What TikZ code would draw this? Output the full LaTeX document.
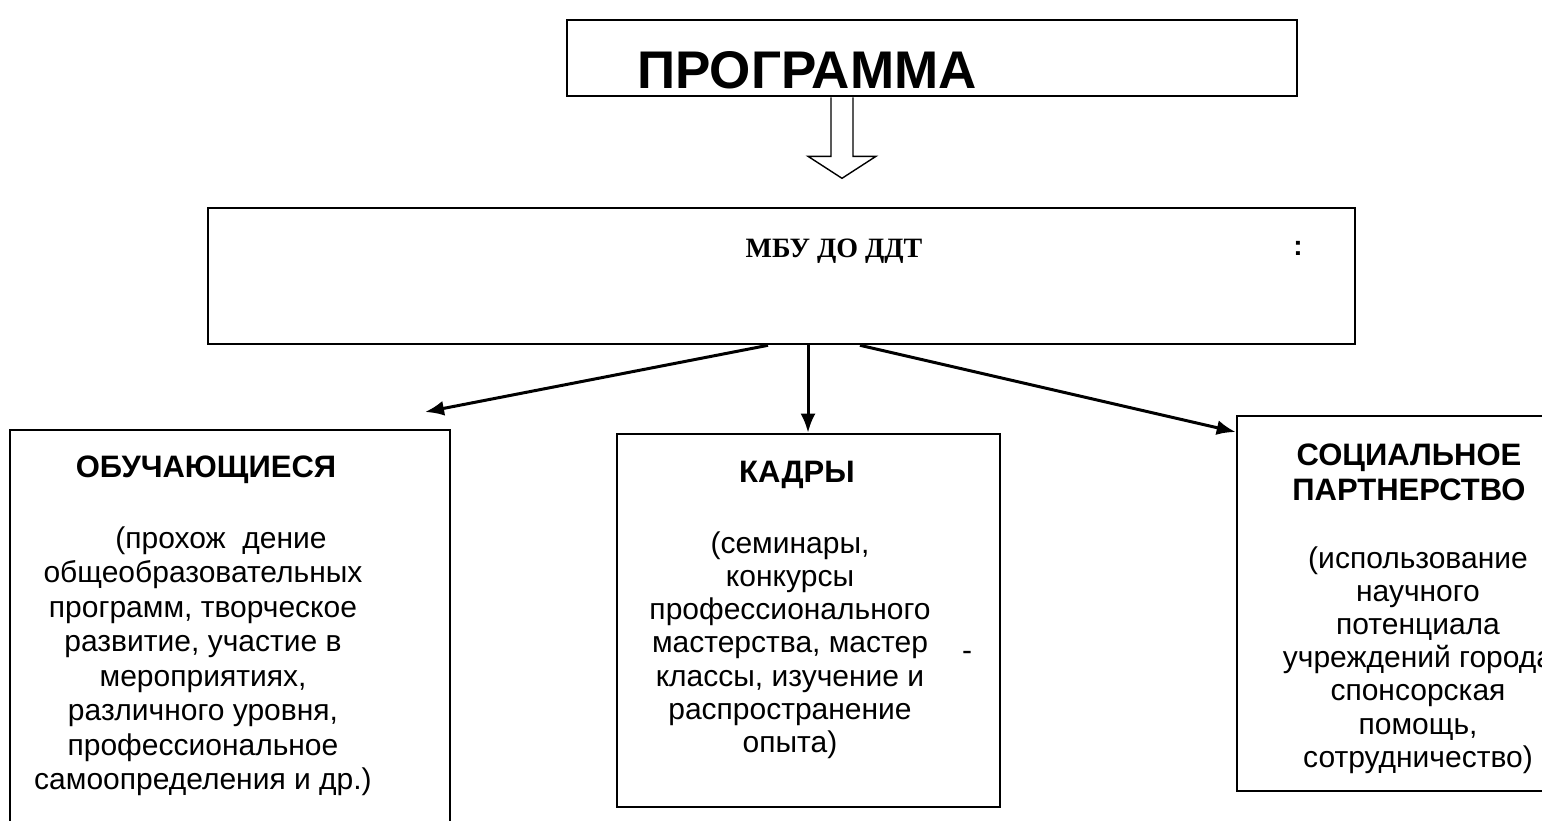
\documentclass[tikz,border=0pt]{standalone}
\usepackage{fontspec}
\setmainfont{Liberation Sans}
\newfontfamily\timesf{Liberation Serif}
\usetikzlibrary{arrows.meta,calc}
\begin{document}
\begin{tikzpicture}[x=1pt,y=-1pt,
  box/.style={draw,line width=2.6pt,inner sep=0pt,minimum width=#1},
  conn/.style={line width=3pt,-{Latex[length=19pt,width=15pt]}},
  head/.style={font=\fontsize{31}{35}\selectfont\bfseries,align=center,inner sep=0pt},
  body/.style={font=\fontsize{30}{#1}\selectfont,align=center,inner sep=0pt},
]
\clip (0,0) rectangle (1542,820);
\fill[white] (0,0) rectangle (1542,820);
% boxes
\node[box=730pt,minimum height=76pt] (prog) at (932,58) {};
\node[box=1147pt,minimum height=136pt] (mbu) at (781.5,276) {};
\node[box=440pt,minimum height=420pt] (stud) at (230,640) {};
\node[box=383pt,minimum height=373pt] (kadr) at (808.5,620.5) {};
\node[box=323pt,minimum height=375pt] (soc) at (1398.5,603.5) {};
% texts
\node[anchor=base,inner sep=0pt,font=\fontsize{53}{60}\selectfont\bfseries] (tprog) at (807,88) {ПРОГРАММА};
\node[anchor=base,inner sep=0pt,font=\timesf\fontsize{28}{32}\selectfont\bfseries] (tmbu) at (834,257) {МБУ ДО ДДТ};
\node[anchor=base,inner sep=0pt,font=\fontsize{28}{32}\selectfont\bfseries] (tcolon) at (1298,255) {:};
\node[head,anchor=base] (hstud) at (206,477) {ОБУЧАЮЩИЕСЯ};
\node[body=34.5,anchor=north] (bstud) at (203,524) {\strut\hspace*{36pt}(прохож\ \ дение\\общеобразовательных\\программ, творческое\\развитие, участие в\\мероприятиях,\\различного уровня,\\профессиональное\\самоопределения и др.)};
\node[head,anchor=base] (hkadr) at (797,482) {КАДРЫ};
\node[body=33.3,anchor=north] (bkadr) at (790,529.5) {\strut(семинары,\\конкурсы\\профессионального\\мастерства, мастер\\классы, изучение и\\распространение\\опыта)};
\node[anchor=base,inner sep=0pt,font=\fontsize{30}{34}\selectfont] (dash) at (967,660) {-};
\node[head,anchor=north] (hsoc) at (1409,440.5) {\strut СОЦИАЛЬНОЕ\\ПАРТНЕРСТВО};
\node[body=33.2,anchor=north] (bsoc) at (1418,544.7) {\strut(использование\\научного\\потенциала\\учреждений города\\спонсорская\\помощь,\\сотрудничество)};
% hollow arrow
\draw[line width=1.4pt,fill=white] ($(prog.south)+(-101,0)$) -- ++(0,59) -- ++(-23,0) -- ++(34,22) -- ++(34,-22) -- ++(-23,0) -- ++(0,-59);
% connectors
\coordinate (ltip) at (425,412);
\draw[conn] ($(mbu.south)+(-13.5,0)$) -- (ltip);
\draw[conn] ($(mbu.south)+(26.5,0)$) -- (kadr.north -| {$(mbu.south)+(26.5,0)$});
\draw[conn] ($(mbu.south)+(78.5,0)$) -- (soc.west |- 0,432);
\end{tikzpicture}
\end{document}
